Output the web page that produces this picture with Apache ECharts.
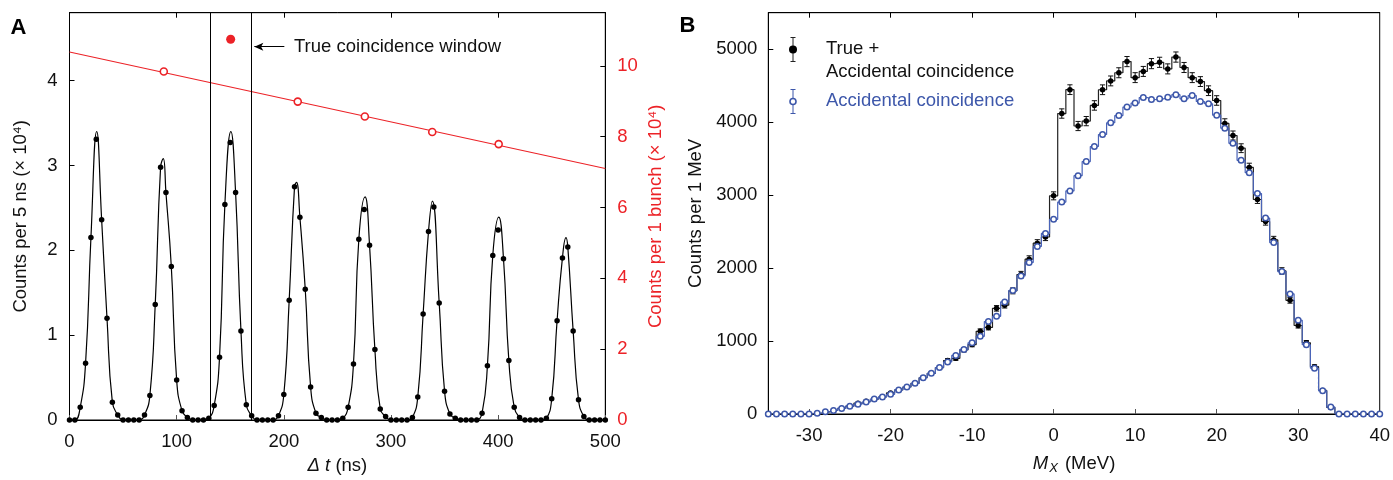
<!DOCTYPE html>
<html><head><meta charset="utf-8">
<script src="https://cdn.jsdelivr.net/npm/echarts@6/dist/echarts.min.js"></script>
<style>html,body{margin:0;padding:0;background:#fff}#c{width:1393px;height:480px}</style>
</head><body><div id="c"></div>
<script>
// ---------- Panel A data ----------
const binNs = 5; // bin width (ns); bins at 0,5,...,500
const countsPer5ns = [ // ×10^4
  0, 0, 0.15, 0.67, 2.15, 3.31, 2.36, 1.20, 0.21, 0.06,
  0, 0, 0, 0, 0.06, 0.29, 1.36, 2.98, 2.68, 1.81,
  0.47, 0.11, 0.03, 0, 0, 0, 0.02, 0.17, 0.74, 2.54,
  3.27, 2.68, 1.05, 0.18, 0.05, 0, 0, 0, 0, 0.05,
  0.30, 1.41, 2.75, 2.39, 1.54, 0.39, 0.08, 0.03, 0, 0,
  0, 0.02, 0.15, 0.66, 2.13, 2.48, 2.06, 0.83, 0.13, 0.04,
  0, 0, 0, 0, 0.03, 0.27, 1.25, 2.22, 2.51, 1.38,
  0.34, 0.07, 0.02, 0, 0, 0, 0, 0.08, 0.64, 1.94,
  2.24, 1.90, 0.70, 0.15, 0.03, 0, 0, 0, 0, 0.02,
  0.25, 1.17, 1.91, 2.04, 1.05, 0.24, 0.04, 0, 0, 0,
  0
];
// apex of the fitted curve for each bunch peak [ns, ×10^4]
const fitPeakTops = [[25.4,3.40],[87.5,3.08],[150.6,3.40],[211.8,2.80],[275.8,2.63],[338.6,2.58],[400.6,2.39],[463.3,2.15]];
const windowEdges = [131.5, 169.5];
const bunchAccidental = [[88,9.84],[213,8.99],[275.6,8.57],[338.5,8.13],[400.5,7.79]]; // ×10^4
const bunchTrue = [[150.4,10.75]];
const bunchFitLine = [[0,10.39],[500,7.10]];

// ---------- Panel B data ----------
const mxFirst = -35; // MeV, 1 MeV bins up to 40
const trueAcc = [
  0,0,0,0,0,0,
  10,30,48,76,107,148,175,202,233,289,
  330,370,421,497,557,636,732,763,880,952,
  1133,1187,1448,1491,1688,1911,2122,2341,2426,2990,
  4118,4445,3947,4014,4229,4444,4565,4677,4830,4610,
  4695,4802,4820,4730,4892,4749,4610,4556,4431,4297,
  3983,3817,3643,3379,2940,2640,2386,1961,1558,1213,
  976,649,323,90,0,0,0,0,0,0
];
const accidental = [
  0,0,0,0,0,0,
  10,30,48,76,107,135,163,205,233,270,
  330,370,421,497,557,636,714,803,885,976,
  1065,1267,1338,1536,1692,1893,2077,2296,2475,2668,
  2905,3057,3267,3460,3666,3831,3992,4090,4207,4261,
  4337,4310,4319,4341,4377,4319,4364,4283,4252,4096,
  3916,3710,3477,3307,3021,2686,2350,1952,1645,1285,
  949,627,318,95,0,0,0,0,0,0
];
const mxTicks = [-30,-20,-10,0,10,20,30];
const mxLabels = [-30,-20,-10,0,10,20,30,40];

// ---------- build ----------
const dotsA = countsPer5ns.map((v,i)=>[i*binNs, v]);
const fitCurve = dotsA.filter(p => !fitPeakTops.some(t => Math.abs(t[0]-p[0]) < 1.6))
  .concat(fitPeakTops).sort((a,b)=>a[0]-b[0]);
const mx = trueAcc.map((_,i)=>mxFirst+i);
const blackPts = trueAcc.map((v,i)=>[mx[i], v]);
const bluePts = accidental.map((v,i)=>[mx[i], v]);
const blackErr = trueAcc.map((v,i)=>[mx[i], v, Math.sqrt(v)]); // Poisson uncertainty

const RED = '#ec2227', BLUE = '#3d57aa', FS = 18.5, FONT = 'Liberation Sans, Arial, Helvetica, sans-serif';
const lab = {fontSize: FS, color: '#111', fontFamily: FONT, showMaxLabel:false};

function errbar(params, api){
  const x = api.value(0), y = api.value(1), e = api.value(2);
  if (!(y > 0)) return;
  const t = api.coord([x, y+e]), b = api.coord([x, y-e]); const hw = 2.6;
  const st = {stroke:'#111', lineWidth:1};
  return {type:'group', children:[
    {type:'line', shape:{x1:t[0],y1:t[1],x2:b[0],y2:b[1]}, style:st},
    {type:'line', shape:{x1:t[0]-hw,y1:t[1],x2:t[0]+hw,y2:t[1]}, style:st},
    {type:'line', shape:{x1:b[0]-hw,y1:b[1],x2:b[0]+hw,y2:b[1]}, style:st}
  ]};
}

const chart = echarts.init(document.getElementById('c'), null, {renderer:'canvas'});
const tickIn = (c)=>({show:true, inside:true, length:5, lineStyle:{color:c||'#000'}});
const plain = v => String(v);
chart.setOption({
  animation:false,
  textStyle:{fontFamily:FONT},
  grid:[
    {left:69.5, top:12.7, right:787.7, bottom:58.3, show:true, borderColor:'#000', borderWidth:1},
    {left:768.3, top:12.7, right:13, bottom:58.3, show:true, borderColor:'#000', borderWidth:1}
  ],
  xAxis:[
    {gridIndex:0, type:'value', min:0, max:500, interval:100, axisLine:{onZero:false, lineStyle:{color:'#000',width:1}},
     axisTick:tickIn('#555'), axisLabel:Object.assign({margin:12}, lab, {showMaxLabel:true}), splitLine:{show:false},
     name:'{it|Δ t} (ns)', nameLocation:'middle', nameGap:36,
     nameTextStyle:{fontSize:FS, color:'#111', fontFamily:FONT, rich:{it:{fontStyle:'italic', fontSize:FS, fontFamily:FONT}}}},
    {gridIndex:0, type:'value', position:'top', min:0, max:500, interval:100, axisLine:{onZero:false, lineStyle:{color:'#000'}},
     axisTick:tickIn('#000'), axisLabel:{show:false}, splitLine:{show:false}},
    {gridIndex:1, type:'value', min:-35, max:40, interval:5, axisLine:{onZero:false, lineStyle:{color:'#000'}},
     axisTick:Object.assign(tickIn('#555'), {customValues:mxTicks}),
     axisLabel:Object.assign({margin:12}, lab, {customValues:mxLabels, showMaxLabel:true, formatter:plain}), splitLine:{show:false},
     name:'{it|M}{sub|X} (MeV)', nameLocation:'middle', nameGap:38,
     nameTextStyle:{fontSize:FS, color:'#111', fontFamily:FONT, rich:{
       it:{fontStyle:'italic', fontSize:FS, fontFamily:FONT},
       sub:{fontStyle:'italic', fontSize:13, fontFamily:FONT, padding:[10,2,0,1]}}}},
    {gridIndex:1, type:'value', position:'top', min:-35, max:40, interval:5, axisLine:{onZero:false, lineStyle:{color:'#000'}},
     axisTick:Object.assign(tickIn('#000'), {customValues:mxTicks}), axisLabel:{show:false}, splitLine:{show:false}}
  ],
  yAxis:[
    {gridIndex:0, type:'value', min:0, max:4.8, interval:1, axisLine:{show:true, onZero:false, lineStyle:{color:'#000'}},
     axisTick:tickIn('#000'), axisLabel:Object.assign({margin:12}, lab), splitLine:{show:false},
     name:'Counts per 5 ns (× 10⁴)', nameLocation:'middle', nameGap:39, nameTextStyle:{fontSize:FS, color:'#111', fontFamily:FONT}},
    {gridIndex:0, type:'value', position:'right', min:0, max:11.5, interval:2, axisLine:{show:true, onZero:false, lineStyle:{color:'#000'}},
     axisTick:tickIn('#000'), axisLabel:Object.assign({}, lab, {color:RED, margin:12}), splitLine:{show:false},
     name:'Counts per 1 bunch (× 10⁴)', nameLocation:'middle', nameGap:41, nameRotate:90,
     nameTextStyle:{fontSize:FS, color:RED, fontFamily:FONT}},
    {gridIndex:1, type:'value', min:0, max:5500, interval:1000, axisLine:{show:true, onZero:false, lineStyle:{color:'#000'}},
     axisTick:tickIn('#000'), axisLabel:Object.assign({margin:11}, lab, {formatter:plain}), splitLine:{show:false},
     name:'Counts per 1 MeV', nameLocation:'middle', nameGap:63, nameTextStyle:{fontSize:FS, color:'#111', fontFamily:FONT}}
  ],
  series:[
    {type:'line', xAxisIndex:0, yAxisIndex:0, data:fitCurve, smooth:0.5, showSymbol:false,
     lineStyle:{color:'#000', width:1.2}, z:2,
     markLine:{silent:true, animation:false, symbol:'none', label:{show:false},
       lineStyle:{color:'#000', width:1, type:'solid'},
       data:[{xAxis:windowEdges[0]}, {xAxis:windowEdges[1]},
         [{coord:[200.5,4.40], symbol:'none'}, {coord:[172.5,4.40], symbol:'arrow', symbolSize:[6,9]}]]}},
    {type:'scatter', xAxisIndex:0, yAxisIndex:0, data:dotsA, symbolSize:5.5, itemStyle:{color:'#000', opacity:1}, z:3},
    {type:'line', xAxisIndex:0, yAxisIndex:1, data:bunchFitLine, showSymbol:false, lineStyle:{color:RED, width:1.1}, z:2},
    {type:'scatter', xAxisIndex:0, yAxisIndex:1, data:bunchAccidental, symbolSize:7,
     itemStyle:{color:'#fff', borderColor:RED, borderWidth:1.6, opacity:1}, z:4},
    {type:'scatter', xAxisIndex:0, yAxisIndex:1, data:bunchTrue, symbolSize:9, itemStyle:{color:RED, opacity:1}, z:4},

    {type:'line', xAxisIndex:2, yAxisIndex:2, data:blackPts, step:'middle', showSymbol:false,
     lineStyle:{color:'#222', width:1.2}, z:2},
    {type:'line', xAxisIndex:2, yAxisIndex:2, data:bluePts, step:'middle', showSymbol:false,
     lineStyle:{color:'#4a64b8', width:1.2}, z:3},
    {type:'custom', xAxisIndex:2, yAxisIndex:2, data:blackErr, renderItem:errbar, encode:{x:0,y:1}, z:4},
    {type:'scatter', xAxisIndex:2, yAxisIndex:2, data:blackPts, symbolSize:5.5, itemStyle:{color:'#000', opacity:1}, z:5},
    {type:'scatter', xAxisIndex:2, yAxisIndex:2, data:bluePts, symbolSize:5.5,
     itemStyle:{color:'#fff', borderColor:BLUE, borderWidth:1.5, opacity:1}, z:6}
  ],
  graphic:[
    {type:'text', x:18.5, y:27.5, style:{text:'A', font:'bold 22px '+FONT, fill:'#000', textAlign:'center', textVerticalAlign:'middle'}},
    {type:'text', x:687.5, y:26, style:{text:'B', font:'bold 22px '+FONT, fill:'#000', textAlign:'center', textVerticalAlign:'middle'}},
    {type:'text', x:294, y:46.5, style:{text:'True coincidence window', font:FS+'px '+FONT, fill:'#111', textVerticalAlign:'middle'}},
    // legend panel B
    {type:'group', children:[
      {type:'line', shape:{x1:793,y1:37.5,x2:793,y2:61.5}, style:{stroke:'#222',lineWidth:1}},
      {type:'line', shape:{x1:790.5,y1:37.5,x2:795.5,y2:37.5}, style:{stroke:'#222',lineWidth:1}},
      {type:'line', shape:{x1:790.5,y1:61.5,x2:795.5,y2:61.5}, style:{stroke:'#222',lineWidth:1}},
      {type:'circle', shape:{cx:793, cy:49.5, r:4}, style:{fill:'#000'}},
      {type:'text', x:826, y:49, style:{text:'True +', font:FS+'px '+FONT, fill:'#111', textVerticalAlign:'middle'}},
      {type:'text', x:826, y:72, style:{text:'Accidental coincidence', font:FS+'px '+FONT, fill:'#111', textVerticalAlign:'middle'}},
      {type:'line', shape:{x1:793,y1:89.5,x2:793,y2:113.5}, style:{stroke:BLUE,lineWidth:1}},
      {type:'line', shape:{x1:790.5,y1:89.5,x2:795.5,y2:89.5}, style:{stroke:BLUE,lineWidth:1}},
      {type:'line', shape:{x1:790.5,y1:113.5,x2:795.5,y2:113.5}, style:{stroke:BLUE,lineWidth:1}},
      {type:'circle', shape:{cx:793, cy:101.5, r:3}, style:{fill:'#fff', stroke:BLUE, lineWidth:1.6}},
      {type:'text', x:826, y:101, style:{text:'Accidental coincidence', font:FS+'px '+FONT, fill:BLUE, textVerticalAlign:'middle'}}
    ]}
  ]
});
</script></body></html>
